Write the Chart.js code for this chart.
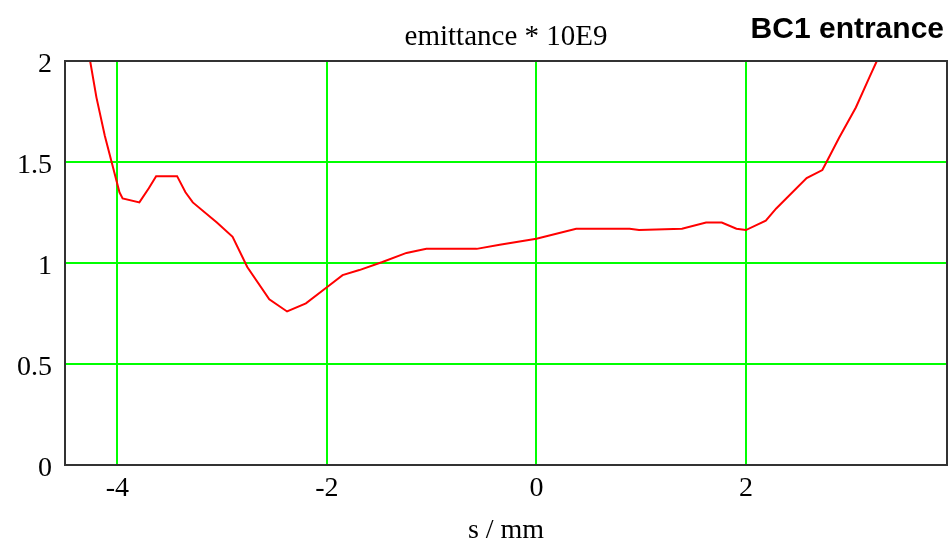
<!DOCTYPE html>
<html lang="en">
<head>
<meta charset="UTF-8">
<title>BC1 entrance - emittance</title>
<script src="https://cdn.jsdelivr.net/npm/chart.js"></script>
<style>
  body { margin: 0; background: #fff; }
  .chart-container { position: relative; width: 950px; height: 547px; }
</style>
</head>
<body>
<div class="chart-container"><canvas id="chart"></canvas></div>
<script>
// s / mm  and  emittance * 10E9
const sValues = [-4.26, -4.20, -4.12, -4.05, -3.98, -3.95, -3.79, -3.70, -3.63,
                 -3.43, -3.35, -3.28, -3.05, -2.90, -2.76, -2.55, -2.38, -2.20, -2.00,
                 -1.85, -1.69, -1.47, -1.24, -1.05, -0.57, -0.35, 0.00, 0.38, 0.89,
                 0.98, 1.39, 1.62, 1.77, 1.91, 2.00, 2.19, 2.29, 2.58, 2.73,
                 2.78, 2.89, 3.05, 3.18, 3.25];
const emittance = [2.00, 1.82, 1.63, 1.49, 1.35, 1.32, 1.30, 1.37, 1.43,
                   1.43, 1.35, 1.30, 1.20, 1.13, 0.98, 0.82, 0.76, 0.80, 0.88,
                   0.94, 0.965, 1.005, 1.05, 1.07, 1.07, 1.09, 1.12, 1.17, 1.17,
                   1.163, 1.17, 1.20, 1.20, 1.17, 1.163, 1.21, 1.27, 1.42, 1.46,
                   1.51, 1.62, 1.77, 1.92, 2.00];
const xTicks = [-4, -2, 0, 2];
const yTicks = [0, 0.5, 1, 1.5, 2];

const title = 'emittance * 10E9';
const label = 'BC1 entrance';

const serif = "'Liberation Serif', 'DejaVu Serif', serif";

// frame + header texts
const frameAndText = {
  id: 'frameAndText',
  afterDraw(chart) {
    const { ctx, chartArea: a } = chart;
    ctx.save();
    ctx.strokeStyle = '#333';
    ctx.lineWidth = 2;
    ctx.strokeRect(a.left, a.top, a.right - a.left, a.bottom - a.top);

    ctx.fillStyle = '#000';
    ctx.textBaseline = 'alphabetic';
    ctx.font = '29px ' + serif;
    ctx.textAlign = 'center';
    ctx.fillText(title, (a.left + a.right) / 2, a.top - 16);

    ctx.font = "bold 30px 'Liberation Sans', Arial, sans-serif";
    ctx.textAlign = 'right';
    ctx.fillText(label, a.right - 3, a.top - 23);
    ctx.restore();
  }
};

new Chart(document.getElementById('chart'), {
  type: 'line',
  data: {
    datasets: [{
      data: sValues.map((s, i) => ({ x: s, y: emittance[i] })),
      borderColor: '#ff0000',
      borderWidth: 2,
      pointRadius: 0,
      tension: 0,
      fill: false
    }]
  },
  options: {
    responsive: true,
    maintainAspectRatio: false,
    animation: false,
    layout: { padding: { top: 61, right: 3, left: 0, bottom: 0 } },
    plugins: { legend: { display: false }, tooltip: { enabled: false } },
    scales: {
      x: {
        type: 'linear',
        min: -4.5,
        max: 3.92,
        afterBuildTicks: axis => { axis.ticks = xTicks.map(v => ({ value: v })); },
        afterFit: axis => { axis.height = 82; },
        grid: { color: '#00ff00', lineWidth: 2, drawTicks: false },
        border: { display: false },
        ticks: {
          color: '#000',
          padding: 7,
          maxRotation: 0,
          callback: v => String(v),
          font: { family: serif, size: 28 }
        },
        title: {
          display: true,
          text: 's / mm',
          color: '#000',
          padding: { top: 0, bottom: 2 },
          font: { family: serif, size: 28, lineHeight: 1.0 }
        }
      },
      y: {
        min: 0,
        max: 2,
        afterBuildTicks: axis => { axis.ticks = yTicks.map(v => ({ value: v })); },
        afterFit: axis => { axis.width = 65; },
        grid: { color: '#00ff00', lineWidth: 2, drawTicks: false },
        border: { display: false },
        ticks: {
          color: '#000',
          padding: 13,
          labelOffset: 4,
          callback: v => String(v),
          font: { family: serif, size: 28 }
        }
      }
    }
  },
  plugins: [frameAndText]
});
</script>
</body>
</html>
